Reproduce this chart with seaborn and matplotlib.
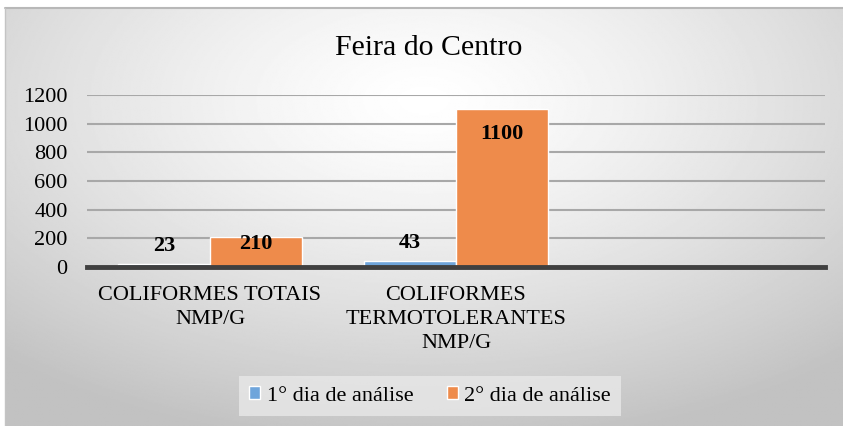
import numpy as np
import pandas as pd
import matplotlib.pyplot as plt
import seaborn as sns

categorias = ['COLIFORMES TOTAIS\nNMP/G', 'COLIFORMES\nTERMOTOLERANTES\nNMP/G', '']
series = ['1° dia de análise', '2° dia de análise']
dia1 = [23, 43]
dia2 = [210, 1100]
cores = ['#6FA5DB', '#EE8B4B']

df = pd.DataFrame({
    'categoria': categorias[:2] * 2,
    'serie': [series[0]] * 2 + [series[1]] * 2,
    'valor': dia1 + dia2,
})

sns.set_style('white')
plt.rcParams['font.family'] = ['Liberation Serif', 'DejaVu Serif']
plt.rcParams['text.color'] = 'black'
plt.rcParams['xtick.color'] = 'black'
plt.rcParams['ytick.color'] = 'black'

fig = plt.figure(figsize=(8.43, 4.26), dpi=100, facecolor='white')

# fundo com gradiente radial
bg = fig.add_axes([5 / 843, 0, 1 - 5 / 843, 1 - 8 / 426], zorder=-10)
yy, xx = np.mgrid[0:1:300j, 0:1:600j]
r = np.sqrt((xx - 0.5) ** 2 + ((yy - 0.22) * 0.9) ** 2)
grad = 1.0 - 0.24 * np.clip(r / 0.75, 0, 1) ** 1.3
bg.imshow(grad, cmap='gray', vmin=0, vmax=1, aspect='auto', extent=[0, 1, 1, 0])
bg.set_axis_off()
fig.add_artist(plt.Line2D([5 / 843, 1], [1 - 8 / 426, 1 - 8 / 426], color='#B8B8B8', lw=1.5))
fig.add_artist(plt.Line2D([5 / 843, 5 / 843], [0, 1 - 8 / 426], color='#C4C4C4', lw=1.0))

ax = fig.add_axes([87 / 843, 1 - 267 / 426, (825 - 87) / 843, (267 - 95) / 426])
ax.set_facecolor('none')
sns.barplot(data=df, x='categoria', y='valor', hue='serie', order=categorias,
            hue_order=series, palette=cores, width=0.75, gap=0, saturation=1,
            ax=ax, zorder=3)

ax.set_ylim(0, 1200)
ax.set_yticks(range(0, 1201, 200))
ax.yaxis.grid(True, color='#A8A8A8', lw=1.5, zorder=0)
ax.set_axisbelow(True)
for s in ['top', 'right', 'left']:
    ax.spines[s].set_visible(False)
ax.spines['bottom'].set_color('#404040')
ax.spines['bottom'].set_linewidth(3.5)
ax.spines['bottom'].set_zorder(5)
ax.tick_params(axis='y', length=0, pad=14, labelsize=16)
ax.tick_params(axis='x', length=0, pad=14, labelsize=16)
for t in ax.get_xticklabels():
    t.set_multialignment('center')
    t.set_linespacing(1.35)
ax.set_xlabel('')
ax.set_ylabel('')

# rótulos de dados
for cont, serie in zip(ax.containers, series):
    for barra, v in zip(cont, cont.datavalues):
        if np.isnan(v):
            continue
        x = barra.get_x() + barra.get_width() / 2
        if serie == series[0]:
            dy = 13
        else:
            dy = -18 if v > 500 else -5
        ax.annotate(f'{int(v)}', (x, v), xytext=(0, dy), textcoords='offset points',
                    ha='center', va='center', fontsize=16, fontweight='bold', zorder=6)

fig.text(0.508, 1 - 48 / 426, 'Feira do Centro', ha='center', va='center', fontsize=21.5)

handles, labels = ax.get_legend_handles_labels()
ax.get_legend().remove()
fig.legend(handles, labels, loc='center', bbox_to_anchor=(430 / 843, 1 - 396 / 426), ncol=2,
           frameon=True, facecolor='#E8E8E8', edgecolor='none', fancybox=False,
           fontsize=16, handlelength=0.5, handleheight=0.5, handletextpad=0.3,
           columnspacing=1.5, borderpad=0.45)

fig.savefig('out.png', dpi=100, facecolor=fig.get_facecolor())
